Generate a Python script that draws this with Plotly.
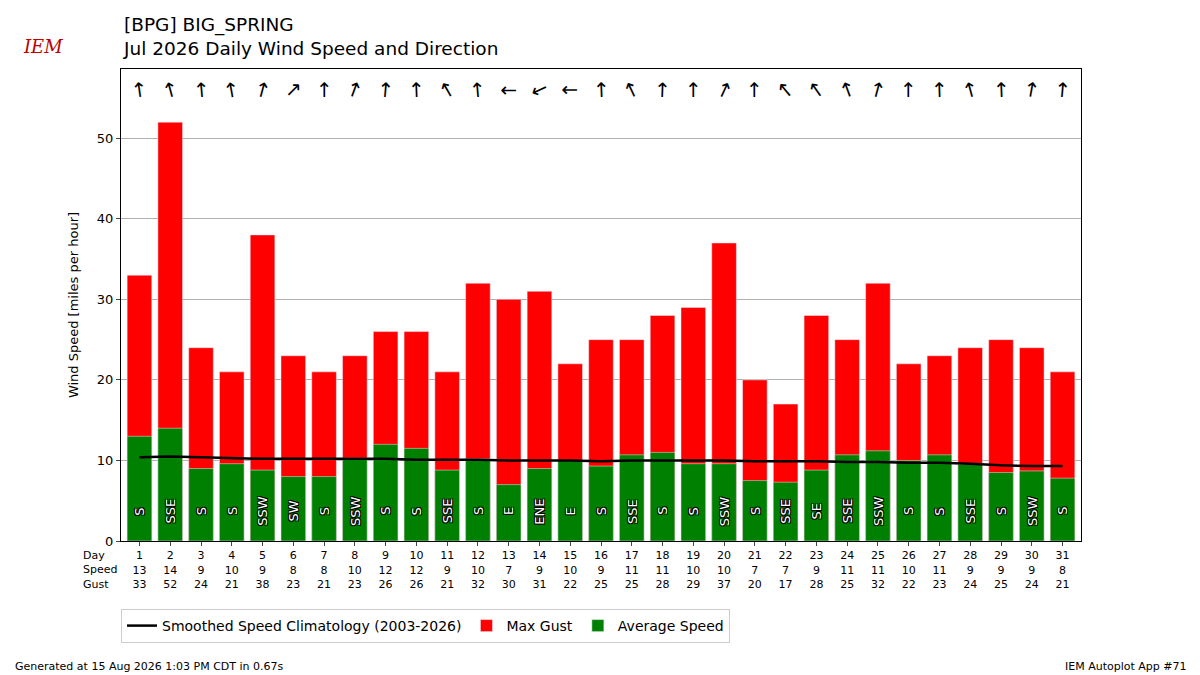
import plotly.graph_objects as go

days = list(range(1, 32))
avg_speed = [13, 14, 9, 9.6, 8.8, 8, 8, 10.3, 12, 11.5, 8.8, 10.2, 7, 9, 10, 9.3, 10.7, 11, 9.6, 9.6,
             7.5, 7.3, 8.8, 10.7, 11.2, 10, 10.7, 9.5, 8.5, 8.7, 7.8]
speed_lbl = [13, 14, 9, 10, 9, 8, 8, 10, 12, 12, 9, 10, 7, 9, 10, 9, 11, 11, 10, 10, 7, 7, 9, 11, 11, 10, 11, 9, 9, 9, 8]
gust = [33, 52, 24, 21, 38, 23, 21, 23, 26, 26, 21, 32, 30, 31, 22, 25, 25, 28, 29, 37,
        20, 17, 28, 25, 32, 22, 23, 24, 25, 24, 21]
dir_lbl = ["S", "SSE", "S", "S", "SSW", "SW", "S", "SSW", "S", "S", "SSE", "S", "E", "ENE", "E", "S",
           "SSE", "S", "S", "SSW", "S", "SSE", "SE", "SSE", "SSW", "S", "S", "SSE", "S", "SSW", "S"]
dir_deg = [172, 165, 175, 170, 195, 225, 180, 200, 185, 178, 150, 175, 90, 65, 90, 178,
           155, 182, 180, 205, 180, 140, 145, 160, 195, 180, 178, 165, 178, 190, 185]
clim = [10.4, 10.5, 10.4, 10.3, 10.2, 10.2, 10.2, 10.2, 10.2, 10.1, 10.1, 10.1, 10.0, 10.0, 10.0, 9.9,
        10.0, 10.0, 10.0, 10.0, 9.9, 9.9, 9.9, 9.8, 9.8, 9.7, 9.7, 9.6, 9.4, 9.3, 9.3]

fig = go.Figure()
fig.add_bar(x=days, y=gust, marker_color="red", name="Max Gust", width=0.8, legendrank=2)
fig.add_bar(x=days, y=avg_speed, marker_color="green", name="Average Speed", width=0.8, legendrank=3)
fig.add_scatter(x=days, y=clim, mode="lines", line=dict(color="black", width=2.5),
                name="Smoothed Speed Climatology (2003-2026)", legendrank=1)

PX0, PY0, W, H = 120, 540, 960, 472
def px(x): return (x - PX0) / W
def py(y): return (PY0 - y) / H

outline = "1px 1px 0 black, -1px -1px 0 black, 1px -1px 0 black, -1px 1px 0 black"
anns = []
for d, lbl, deg in zip(days, dir_lbl, dir_deg):
    anns.append(dict(x=d, y=3.7, text=lbl, textangle=-90, showarrow=False,
                     font=dict(color="white", size=13, shadow=outline)))
    anns.append(dict(x=d, y=56.0, text="↑", textangle=deg - 180, showarrow=False,
                     font=dict(size=20, color="black")))

anns.append(dict(x=px(118), y=py(569), xanchor="right", yanchor="middle",
                 text="Day<br>Speed<br>Gust", showarrow=False, align="left", font=dict(size=11)))
anns.append(dict(x=px(120), y=py(36), xanchor="left", yanchor="middle",
                 text="[BPG] BIG_SPRING<br>Jul 2026 Daily Wind Speed and Direction", align="left",
                 showarrow=False, font=dict(size=18.5)))
anns.append(dict(x=px(12), y=py(665), xanchor="left", yanchor="middle",
                 text="Generated at 15 Aug 2026 1:03 PM CDT in 0.67s", showarrow=False, font=dict(size=11)))
anns.append(dict(x=px(1188), y=py(665), xanchor="right", yanchor="middle",
                 text="IEM Autoplot App #71", showarrow=False, font=dict(size=11)))
anns.append(dict(x=px(20), y=py(45), xanchor="left", yanchor="middle",
                 text="<i>IEM</i>", showarrow=False, font=dict(size=18, color="#c00000", family="DejaVu Serif")))
for a in anns[-5:]:
    a["xref"] = "paper"; a["yref"] = "paper"

ticktext = [f"{d}<br>{s}<br>{g}" for d, s, g in zip(days, speed_lbl, gust)]
fig.update_layout(
    annotations=anns,
    width=1200, height=675, barmode="overlay", plot_bgcolor="white", paper_bgcolor="white",
    font=dict(family="DejaVu Sans", color="black", size=12),
    margin=dict(l=113, r=127, t=61, b=142),
    xaxis=dict(range=[0.4, 31.6], tickvals=days, ticktext=ticktext, tickfont=dict(size=11),
               showgrid=False, showline=True, linecolor="black", mirror=True, ticks="outside", ticklen=4),
    yaxis=dict(range=[0, 58.6], dtick=10, title=dict(text="Wind Speed [miles per hour]", font=dict(size=13)),
               showgrid=True, gridcolor="#b0b0b0", showline=True, linecolor="black", mirror=True,
               ticks="outside", ticklen=4, tickfont=dict(size=13), zeroline=False),
    legend=dict(orientation="h", x=0, y=py(608), xanchor="left", yanchor="top", traceorder="normal",
                bordercolor="#cccccc", borderwidth=1, font=dict(size=14)),
    showlegend=True,
)
fig.write_html("out.html")
